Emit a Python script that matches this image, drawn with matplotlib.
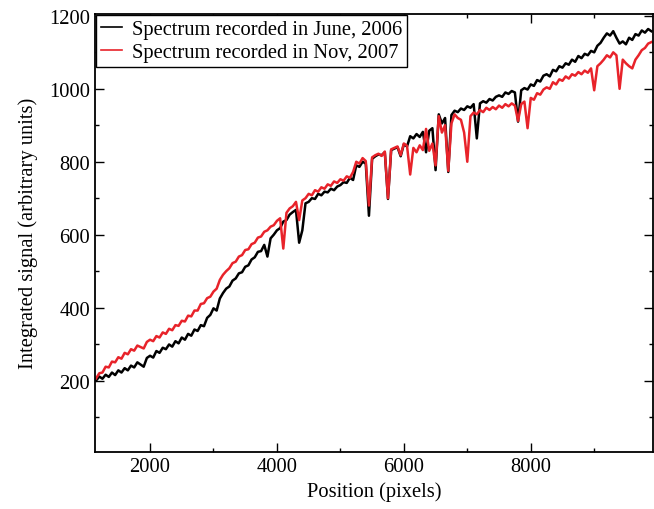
import matplotlib
matplotlib.use("Agg")
import matplotlib.pyplot as plt
from matplotlib.ticker import MultipleLocator
import numpy as np

# positions (pixels) sampled every 50 pixels from 1150 to 9900
position = list(range(1150, 9901, 50))

june_2006 = [
    200, 211, 205, 216, 210, 222, 215, 228, 222, 234, 228, 241, 236, 250, 244, 238, 262, 268, 263, 281,
    276, 290, 286, 299, 293, 308, 302, 318, 312, 328, 323, 340, 336, 352, 349, 372, 380, 398, 392, 425,
    440, 452, 458, 474, 480, 494, 497, 512, 516, 532, 538, 553, 555, 572, 540, 590, 600, 612, 618, 636,
    640, 655, 662, 668, 578, 612, 686, 690, 700, 698, 712, 708, 718, 716, 726, 722, 732, 736, 744, 742,
    756, 750, 790, 786, 800, 795, 652, 808, 815, 820, 818, 826, 698, 832, 836, 840, 815, 848, 842, 870,
    864, 876, 868, 882, 826, 885, 892, 777, 930, 905, 920, 772, 928, 940, 936, 946, 942, 952, 948, 958,
    864, 960, 966, 962, 972, 968, 978, 982, 978, 990, 986, 994, 990, 910, 996, 1002, 998, 1012, 1008, 1024,
    1020, 1036, 1040, 1034, 1052, 1048, 1062, 1058, 1070, 1066, 1080, 1074, 1090, 1084, 1096, 1092, 1104, 1100, 1118, 1126,
    1140, 1152, 1146, 1158, 1140, 1124, 1130, 1122, 1140, 1134, 1150, 1146, 1160, 1154, 1164, 1158,
]

nov_2007 = [
    206, 220, 222, 238, 236, 252, 250, 264, 260, 276, 272, 286, 282, 296, 292, 288, 306, 312, 308, 322,
    318, 332, 328, 342, 338, 352, 350, 364, 362, 378, 376, 392, 392, 410, 412, 426, 430, 444, 452, 476,
    490, 500, 508, 522, 526, 540, 544, 558, 560, 574, 578, 592, 595, 608, 612, 622, 626, 638, 645, 562,
    660, 672, 678, 690, 640, 694, 700, 712, 708, 722, 718, 730, 726, 738, 734, 746, 742, 752, 748, 760,
    756, 772, 800, 795, 810, 802, 680, 812, 818, 822, 816, 828, 700, 834, 838, 842, 818, 850, 844, 765,
    838, 826, 845, 832, 890, 830, 850, 790, 925, 880, 900, 775, 905, 930, 920, 915, 880, 800, 925, 935,
    930, 942, 936, 948, 942, 950, 944, 954, 948, 958, 952, 960, 954, 912, 958, 965, 892, 975, 970, 988,
    984, 998, 1004, 1000, 1018, 1012, 1026, 1022, 1034, 1028, 1040, 1036, 1046, 1040, 1050, 1044, 1056, 996, 1062, 1070,
    1080, 1092, 1086, 1100, 1092, 1000, 1080, 1070, 1062, 1056, 1080, 1092, 1106, 1112, 1124, 1128,
]

labels = ["Spectrum recorded in June, 2006", "Spectrum recorded in Nov, 2007"]

plt.rcParams['font.family'] = ['Liberation Serif', 'DejaVu Serif']

FS = 14.8

fig = plt.figure(figsize=(6.54, 5.10), dpi=100)
ax = fig.add_axes([0.1453, 0.1124, 0.8532, 0.8588])

ax.plot(position, june_2006, color='black', lw=1.8, label=labels[0])
ax.plot(position, nov_2007, color='#e8232a', lw=1.8, label=labels[1])

ax.set_xlim(1133, 9927)
ax.set_ylim(5, 1206)
ax.xaxis.set_major_locator(MultipleLocator(2000))
ax.xaxis.set_minor_locator(MultipleLocator(1000))
ax.yaxis.set_major_locator(MultipleLocator(200))
ax.yaxis.set_minor_locator(MultipleLocator(100))
ax.tick_params(which='both', direction='in', top=True, right=True, width=1.0, labelsize=FS)
ax.tick_params(which='major', length=6.5)
ax.tick_params(which='minor', length=3)
ax.set_yticks([200, 400, 600, 800, 1000, 1200])
for s in ax.spines.values():
    s.set_linewidth(1.3)

ax.set_xlabel("Position (pixels)", fontsize=FS, labelpad=4)
ax.set_ylabel("Integrated signal (arbitrary units)", fontsize=FS, labelpad=8)

leg = ax.legend(loc='upper left', fontsize=FS, frameon=True, fancybox=False,
                edgecolor='black', borderaxespad=0.05, borderpad=0.25,
                labelspacing=0.15, handlelength=1.0, handletextpad=0.5)
leg.get_frame().set_linewidth(1.0)
leg.get_frame().set_alpha(1)
for ln in leg.get_lines():
    ln.set_linewidth(1.2)

fig.savefig("out.png", dpi=100)
